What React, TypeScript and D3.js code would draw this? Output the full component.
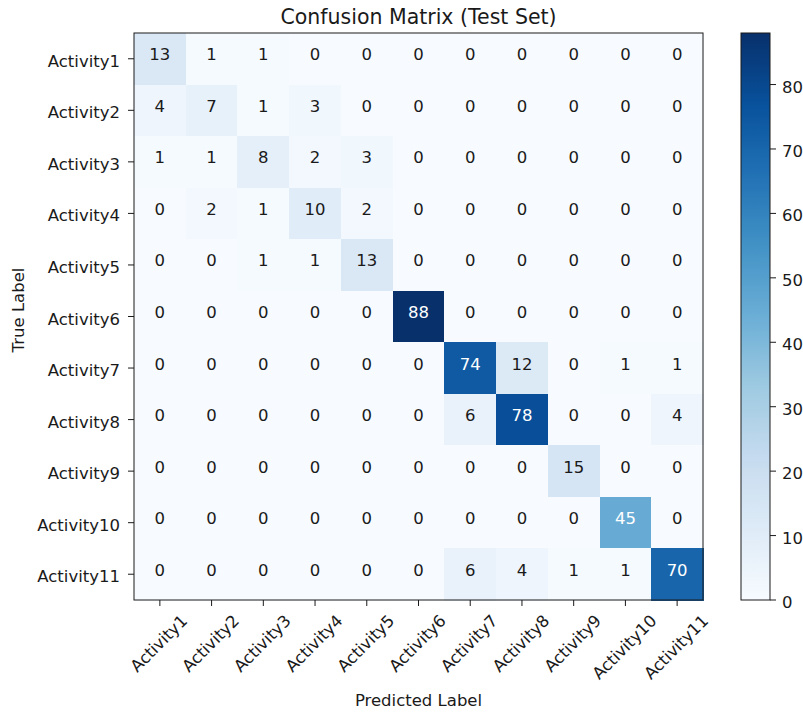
import React, { useEffect, useRef } from "react";
import * as d3 from "d3";

const labels = [
  "Activity1", "Activity2", "Activity3", "Activity4", "Activity5", "Activity6",
  "Activity7", "Activity8", "Activity9", "Activity10", "Activity11",
];

const matrix = [
  [13, 1, 1, 0, 0, 0, 0, 0, 0, 0, 0],
  [4, 7, 1, 3, 0, 0, 0, 0, 0, 0, 0],
  [1, 1, 8, 2, 3, 0, 0, 0, 0, 0, 0],
  [0, 2, 1, 10, 2, 0, 0, 0, 0, 0, 0],
  [0, 0, 1, 1, 13, 0, 0, 0, 0, 0, 0],
  [0, 0, 0, 0, 0, 88, 0, 0, 0, 0, 0],
  [0, 0, 0, 0, 0, 0, 74, 12, 0, 1, 1],
  [0, 0, 0, 0, 0, 0, 6, 78, 0, 0, 4],
  [0, 0, 0, 0, 0, 0, 0, 0, 15, 0, 0],
  [0, 0, 0, 0, 0, 0, 0, 0, 0, 45, 0],
  [0, 0, 0, 0, 0, 0, 6, 4, 1, 1, 70],
];

const colorbarTicks = [0, 10, 20, 30, 40, 50, 60, 70, 80];

// ColorBrewer "Blues" (9-class), interpolated linearly between stops
const bluesStops = [
  "#f7fbff", "#deebf7", "#c6dbef", "#9ecae1", "#6baed6",
  "#4292c6", "#2171b5", "#08519c", "#08306b",
];

const W = 803;
const H = 713;
const FONT = "DejaVu Sans, sans-serif";
const FS = 16.5;
const INK = "#1a1a1a";

export default function App() {
  const ref = useRef<SVGSVGElement | null>(null);

  useEffect(() => {
    const svg = d3.select(ref.current);
    svg.selectAll("*").remove();

    const left = 134, right = 703, top = 33, bottom = 600;
    const cbLeft = 741, cbRight = 770;
    const tickLen = 6;

    const vmax = d3.max(matrix.flat()) as number;
    const vmin = 0;
    const stopScale = d3
      .scaleLinear<string>()
      .domain(bluesStops.map((_, i) => i / (bluesStops.length - 1)))
      .range(bluesStops)
      .interpolate(d3.interpolateRgb);
    const color = (v: number) => stopScale((v - vmin) / (vmax - vmin));

    const x = d3.scaleBand<string>().domain(labels).range([left, right]).padding(0);
    const y = d3.scaleBand<string>().domain(labels).range([top, bottom]).padding(0);

    // cells
    const g = svg.append("g");
    matrix.forEach((row, i) => {
      row.forEach((v, j) => {
        g.append("rect")
          .attr("x", x(labels[j])!)
          .attr("y", y(labels[i])!)
          .attr("width", x.bandwidth() + 0.5)
          .attr("height", y.bandwidth() + 0.5)
          .attr("fill", color(v))
          .attr("shape-rendering", "crispEdges");
      });
    });

    // cell annotations (white on dark cells)
    const thresh = vmax / 2;
    matrix.forEach((row, i) => {
      row.forEach((v, j) => {
        g.append("text")
          .attr("x", x(labels[j])! + x.bandwidth() / 2)
          .attr("y", y(labels[i])! + y.bandwidth() / 2 + 1.5)
          .attr("text-anchor", "middle")
          .attr("font-family", FONT)
          .attr("font-size", FS)
          .attr("fill", v > thresh ? "#ffffff" : INK)
          .text(String(v));
      });
    });

    // frame
    svg.append("rect")
      .attr("x", left).attr("y", top)
      .attr("width", right - left).attr("height", bottom - top)
      .attr("fill", "none").attr("stroke", INK).attr("stroke-width", 1);

    // y axis ticks and labels
    labels.forEach((lab) => {
      const cy = y(lab)! + y.bandwidth() / 2;
      svg.append("line")
        .attr("x1", left - tickLen).attr("x2", left)
        .attr("y1", cy).attr("y2", cy)
        .attr("stroke", INK).attr("stroke-width", 1);
      svg.append("text")
        .attr("x", left - 14)
        .attr("y", cy + 8)
        .attr("text-anchor", "end")
        .attr("font-family", FONT)
        .attr("font-size", FS)
        .attr("fill", INK)
        .text(lab);
    });

    // x axis ticks and rotated labels (bbox centred under each tick)
    const asc = FS * 0.76;
    const desc = FS * 0.24;
    const labelTop = bottom + tickLen + 7;
    labels.forEach((lab) => {
      const cx = x(lab)! + x.bandwidth() / 2;
      svg.append("line")
        .attr("x1", cx).attr("x2", cx)
        .attr("y1", bottom).attr("y2", bottom + tickLen)
        .attr("stroke", INK).attr("stroke-width", 1);
      const t = svg.append("text")
        .attr("text-anchor", "middle")
        .attr("font-family", FONT)
        .attr("font-size", FS)
        .attr("fill", INK)
        .text(lab);
      const w = (t.node() as SVGTextElement).getComputedTextLength();
      const s = Math.SQRT1_2;
      const px = cx + (s * (asc - desc)) / 2;
      const py = labelTop + s * (asc + w / 2);
      t.attr("x", px).attr("y", py).attr("transform", `rotate(-45,${px},${py})`);
    });

    // axis titles and chart title
    svg.append("text")
      .attr("x", (left + right) / 2).attr("y", 706)
      .attr("text-anchor", "middle")
      .attr("font-family", FONT).attr("font-size", FS).attr("fill", INK)
      .text("Predicted Label");
    const ylx = 24, yly = 310;
    svg.append("text")
      .attr("x", ylx).attr("y", yly)
      .attr("text-anchor", "middle")
      .attr("transform", `rotate(-90,${ylx},${yly})`)
      .attr("font-family", FONT).attr("font-size", FS).attr("fill", INK)
      .text("True Label");
    svg.append("text")
      .attr("x", (left + right) / 2).attr("y", 24)
      .attr("text-anchor", "middle")
      .attr("font-family", FONT).attr("font-size", 20.5).attr("fill", INK)
      .text("Confusion Matrix (Test Set)");

    // colorbar
    const defs = svg.append("defs");
    const grad = defs.append("linearGradient")
      .attr("id", "cbGrad")
      .attr("x1", 0).attr("y1", 1).attr("x2", 0).attr("y2", 0);
    d3.range(0, 101).forEach((k) => {
      const f = k / 100;
      grad.append("stop")
        .attr("offset", `${f * 100}%`)
        .attr("stop-color", stopScale(f));
    });
    svg.append("rect")
      .attr("x", cbLeft).attr("y", top)
      .attr("width", cbRight - cbLeft).attr("height", bottom - top)
      .attr("fill", "url(#cbGrad)")
      .attr("stroke", INK).attr("stroke-width", 1);

    const cbScale = d3.scaleLinear().domain([vmin, vmax]).range([bottom, top]);
    colorbarTicks.forEach((tv) => {
      const ty = cbScale(tv);
      svg.append("line")
        .attr("x1", cbRight).attr("x2", cbRight + tickLen)
        .attr("y1", ty).attr("y2", ty)
        .attr("stroke", INK).attr("stroke-width", 1);
      svg.append("text")
        .attr("x", cbRight + tickLen + 6)
        .attr("y", ty + 8)
        .attr("font-family", FONT).attr("font-size", FS).attr("fill", INK)
        .text(String(tv));
    });
  }, []);

  return (
    <svg
      ref={ref}
      width={W}
      height={H}
      style={{ position: "absolute", left: 0, top: 0, background: "#fff" }}
    />
  );
}
